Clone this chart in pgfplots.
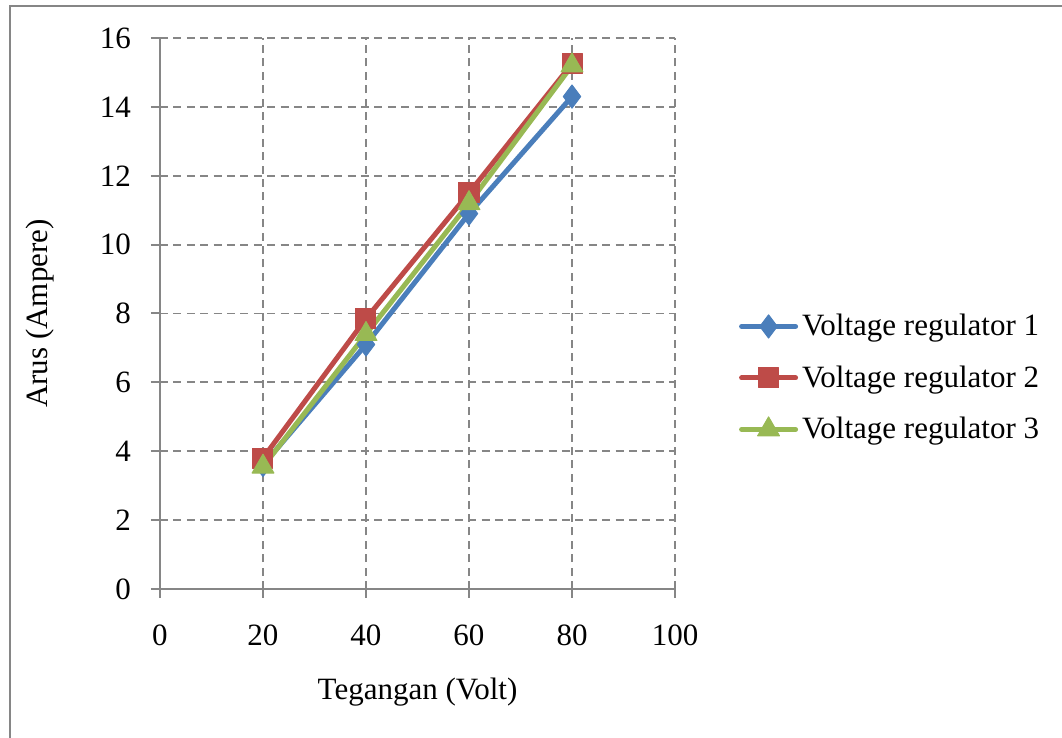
\documentclass[border=0pt]{standalone}
\usepackage{pgfplots}
\pgfplotsset{compat=1.18}
\usepackage{fontspec}
\setmainfont{Liberation Serif}

\definecolor{vrblue}{HTML}{4A7EBB}
\definecolor{vrred}{HTML}{BE4B48}
\definecolor{vrgreen}{HTML}{98B954}
\definecolor{axisgray}{HTML}{868686}

\begin{document}
\begin{tikzpicture}[font=\fontsize{15.5}{18.5}\selectfont]
\begin{axis}[
  at={(80pt,74.5pt)}, anchor=south west,
  scale only axis, width=257.5pt, height=275.5pt,
  xmin=0, xmax=100, ymin=0, ymax=16,
  xtick={0,20,...,100}, ytick={0,2,...,16},
  axis x line=bottom, axis y line=left,
  axis line style={draw=axisgray, line width=1pt, -},
  tick style={draw=axisgray, line width=1pt},
  tick align=outside, major tick length=4.5pt,
  grid=major,
  major grid style={draw=axisgray, line width=0.9pt, dash pattern=on 4pt off 2.7pt},
  /pgf/number format/assume math mode=true,
  ticklabel style={font=\fontsize{15.5}{18.5}\selectfont},
  xticklabel style={yshift=-10pt},
  yticklabel style={xshift=-6.5pt},
  xlabel={Tegangan (Volt)}, ylabel={Arus (Ampere)},
  xlabel style={at={(axis description cs:0.5,-0.187)}, anchor=center},
  ylabel style={at={(axis description cs:-0.232,0.5)}, anchor=center, rotate=0},
  legend style={at={(1.112,0.383)}, anchor=west, draw=none, fill=none,
    font=\fontsize{15.5}{18.5}\selectfont, row sep=9.5pt},
  legend cell align=left,
  legend image code/.code={
    \draw[#1, mark=none] (0pt,0pt) -- (27pt,0pt);
    \draw[#1, only marks] plot coordinates {(13.5pt,0pt)};
  },
  every axis plot/.append style={line width=2.5pt, line join=round, line cap=round},
]
\addplot[vrblue, mark=diamond*, mark size=5.8pt, mark options={solid, line width=0.5pt}]
  coordinates {(20,3.6) (40,7.1) (60,10.9) (80,14.3)};
\addlegendentry{Voltage regulator 1}
\addplot[vrred, mark=square*, mark size=5pt, mark options={solid, line width=0.5pt}]
  coordinates {(20,3.8) (40,7.85) (60,11.5) (80,15.25)};
\addlegendentry{Voltage regulator 2}
\addplot[vrgreen, mark=triangle*, mark size=6.3pt, mark options={solid, line width=0.5pt}]
  coordinates {(20,3.55) (40,7.4) (60,11.2) (80,15.2)};
\addlegendentry{Voltage regulator 3}
\end{axis}
% outer chart frame
\draw[axisgray, line width=1pt] (5pt,-5pt) -- (5pt,365.75pt) -- (540pt,365.75pt);
\pgfresetboundingbox
\useasboundingbox (0,0) rectangle (531pt,369pt);
\end{tikzpicture}
\end{document}
